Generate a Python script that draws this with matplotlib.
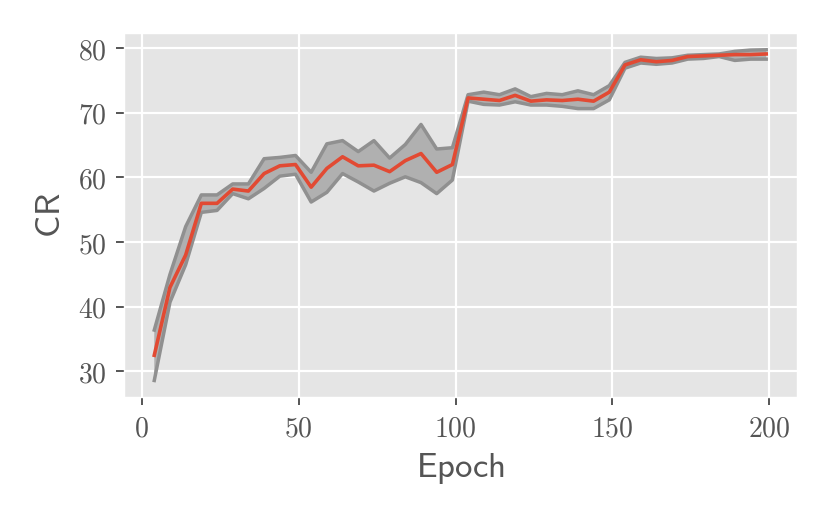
import matplotlib
matplotlib.use("Agg")
import matplotlib.pyplot as plt
from matplotlib.ticker import FuncFormatter

plt.style.use("ggplot")
plt.rcParams["mathtext.fontset"] = "cm"

epochs = list(range(4, 200, 5))
cr_mean = [32.5, 43.0, 48.0, 56.0, 56.0, 58.2, 57.9, 60.6, 61.8, 62.0,
           58.5, 61.4, 63.2, 61.8, 61.9, 60.9, 62.6, 63.7, 60.8, 62.0,
           72.3, 72.1, 71.9, 72.7, 71.8, 72.0, 71.9, 72.1, 71.8, 73.2,
           77.4, 78.2, 77.9, 78.1, 78.7, 78.8, 78.9, 79.0, 79.0, 79.1]
cr_upper = [36.4, 45.0, 52.4, 57.3, 57.3, 59.0, 59.0, 62.9, 63.1, 63.4,
            60.8, 65.2, 65.7, 64.0, 65.7, 63.0, 65.1, 68.2, 64.4, 64.6,
            72.8, 73.2, 72.8, 73.7, 72.5, 73.0, 72.8, 73.4, 72.8, 74.2,
            77.8, 78.6, 78.4, 78.5, 78.9, 79.0, 79.1, 79.5, 79.7, 79.75]
cr_lower = [28.6, 40.7, 46.5, 54.6, 54.9, 57.5, 56.7, 58.3, 60.2, 60.5,
            56.2, 57.7, 60.6, 59.3, 57.9, 59.1, 60.1, 59.2, 57.5, 59.6,
            71.8, 71.3, 71.2, 71.7, 71.2, 71.2, 71.0, 70.65, 70.65, 72.0,
            76.9, 77.7, 77.5, 77.7, 78.3, 78.4, 78.7, 78.1, 78.3, 78.3]

fig = plt.figure(figsize=(8.3, 5.19), dpi=100)
ax = fig.add_axes([0.149, 0.235, 0.811, 0.701])
ax.grid(True, color="white", lw=1.6)

ax.fill_between(epochs, cr_lower, cr_upper, facecolor="#b0b0b0", edgecolor="none")
ax.plot(epochs, cr_upper, color="#909090", lw=2.5)
ax.plot(epochs, cr_lower, color="#909090", lw=2.5)
ax.plot(epochs, cr_mean, color="#E24A33", lw=2.6)

ax.set_xticks([0, 50, 100, 150, 200])
ax.set_yticks([30, 40, 50, 60, 70, 80])
fmt = FuncFormatter(lambda v, p: "$%d$" % v)
ax.xaxis.set_major_formatter(fmt)
ax.yaxis.set_major_formatter(fmt)
ax.tick_params(labelsize=20, colors="#555555", length=5.5, width=1.4, pad=7)
ax.set_xlabel(r"$\mathsf{Epoch}$", fontsize=25, color="#555555", labelpad=6)
ax.set_ylabel(r"$\mathsf{CR}$", fontsize=25, color="#555555", labelpad=8)

fig.savefig("out.png", dpi=100)
